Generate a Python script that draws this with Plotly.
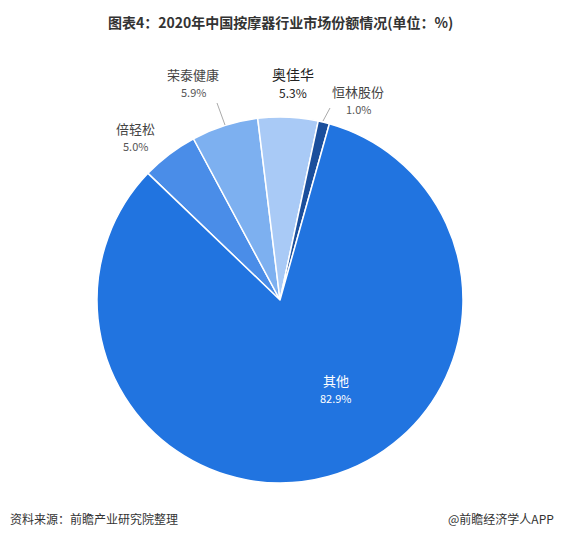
import plotly.graph_objects as go

labels = ["倍轻松", "荣泰健康", "奥佳华", "恒林股份", "其他"]
values = [5.0, 5.9, 5.3, 1.0, 82.9]
colors = ["#4A8DE8", "#7DB0F0", "#A9CAF6", "#1B4F9C", "#2174E0"]

W, H = 562, 538
# label centres in pixels (x, y of name line)
label_pos = {
    "倍轻松": (127, 120),
    "荣泰健康": (185, 66),
    "奥佳华": (285, 66),
    "恒林股份": (350, 83),
    "其他": (328, 372),
}

fig = go.Figure(go.Pie(
    labels=labels, values=values, sort=False, direction="clockwise",
    rotation=-46.2,
    marker=dict(colors=colors, line=dict(color="white", width=1.5)),
    textinfo="none",
    domain=dict(x=[89 / W, 455 / W], y=[1 - 475 / H, 1 - 109 / H]),
    showlegend=False, hoverinfo="label+percent",
))

for lab, val in zip(labels, values):
    px_, py_ = label_pos[lab]
    big = lab == "奥佳华"
    inner = lab == "其他"
    c1 = "white" if inner else ("#222" if big else "#444")
    c2 = "white" if inner else ("#222" if big else "#555")
    fig.add_annotation(x=px_ / W, y=1 - py_ / H, xref="paper", yref="paper",
                       xanchor="center", yanchor="middle",
                       text=lab, showarrow=False,
                       font=dict(size=14 if big else 13, color=c1))
    fig.add_annotation(x=px_ / W, y=1 - (py_ + 18) / H, xref="paper", yref="paper",
                       xanchor="center", yanchor="middle",
                       text=f"{val:.1f}%", showarrow=False,
                       font=dict(size=12 if big else 11, color=c2))

# leader lines
for x0, y0, x1, y1 in [(209, 95, 217, 117), (322, 100, 315, 113)]:
    fig.add_shape(type="line", xref="paper", yref="paper",
                  x0=x0 / W, y0=1 - y0 / H, x1=x1 / W, y1=1 - y1 / H,
                  line=dict(color="#aaa", width=1))

fig.add_annotation(x=272 / W, y=1 - 14 / H, xref="paper", yref="paper", showarrow=False,
                   xanchor="center", yanchor="middle",
                   text="<b>图表4：2020年中国按摩器行业市场份额情况(单位：%)</b>",
                   font=dict(size=14, color="#333"))
fig.add_annotation(x=0, y=1 - 510 / H, xref="paper", yref="paper", showarrow=False,
                   xanchor="left", yanchor="middle", text="资料来源：前瞻产业研究院整理",
                   font=dict(size=12, color="#333"))
fig.add_annotation(x=548 / W, y=1 - 510 / H, xref="paper", yref="paper", showarrow=False,
                   xanchor="right", yanchor="middle", text="@前瞻经济学人APP",
                   font=dict(size=12, color="#333"))

fig.update_layout(width=W, height=H, margin=dict(l=0, r=0, t=0, b=0),
                  paper_bgcolor="white",
                  font=dict(family="Noto Sans CJK SC, sans-serif"))
fig.write_html("out.html")
